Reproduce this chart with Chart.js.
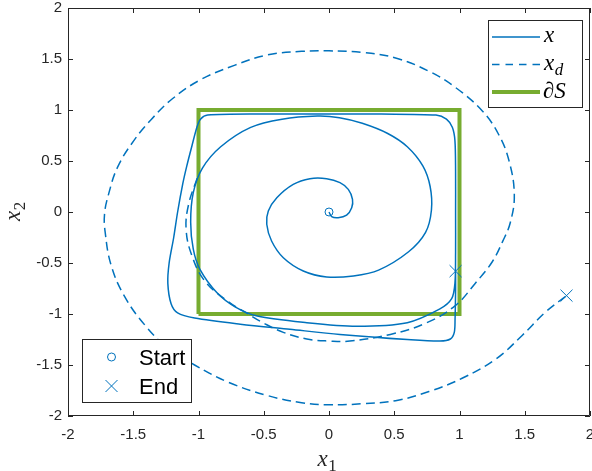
<!DOCTYPE html>
<html>
<head>
<meta charset="utf-8">
<script src="https://cdn.jsdelivr.net/npm/chart.js@4.4.1/dist/chart.umd.min.js"></script>
<style>
  html, body { margin: 0; padding: 0; background: #fff; overflow: hidden; }
  #wrap { width: 592px; height: 471px; position: relative; }
</style>
</head>
<body>
<div id="wrap"><canvas id="phaseChart"></canvas></div>
<script>
// state trajectory x = (x1, x2)
const trajX1 = [0, 0.02, 0.07, 0.135, 0.174, 0.18, 0.148, 0.084, -0.018, -0.146,
  -0.274, -0.4, -0.465, -0.477, -0.44, -0.35, -0.197, -0.018, 0.187, 0.38,
  0.61, 0.74, 0.785, 0.775, 0.72, 0.6, 0.45, 0.255, 0.08, -0.09,
  -0.36, -0.6, -0.83, -0.97, -1.04, -1.06, -1.04, -0.99, -0.86, -0.72,
  -0.55, -0.17, 0.21, 0.6, 0.85, 0.94, 0.965, 0.97, 0.97, 0.97,
  0.965, 0.945, 0.9, 0.82, 0.4, 0.0, -0.5, -0.93, -0.985, -1.01,
  -1.05, -1.09, -1.12, -1.16, -1.19, -1.225, -1.235, -1.21, -1.16, -1.03,
  -0.68, -0.3, 0.084, 0.6, 0.85, 0.93, 0.96, 0.966, 0.97, 0.97];
const trajX2 = [0, -0.045, -0.056, -0.03, 0.042, 0.124, 0.222, 0.288, 0.327, 0.327,
  0.271, 0.14, 0.01, -0.12, -0.284, -0.448, -0.578, -0.637, -0.627, -0.57,
  -0.39, -0.2, 0.02, 0.25, 0.45, 0.64, 0.77, 0.87, 0.925, 0.94,
  0.91, 0.83, 0.64, 0.43, 0.19, -0.1, -0.365, -0.56, -0.79, -0.93,
  -1.02, -1.085, -1.12, -1.085, -0.95, -0.85, -0.7, -0.4, 0.0, 0.4,
  0.7, 0.83, 0.91, 0.95, 0.96, 0.96, 0.96, 0.95, 0.91, 0.84,
  0.65, 0.45, 0.28, 0.0, -0.25, -0.5, -0.7, -0.9, -0.99, -1.04,
  -1.1, -1.15, -1.2, -1.25, -1.265, -1.245, -1.18, -1.05, -0.77, -0.58];

// desired trajectory x_d
const desX1 = [-1.01, -1.075, -1.095, -1.05, -0.95, -0.77, -0.62, -0.5, -0.35, -0.17,
  0.0, 0.16, 0.47, 0.75, 0.97, 1.12, 1.25, 1.33, 1.39, 1.42,
  1.38, 1.3, 1.175, 0.97, 0.766, 0.51, 0.255, 0.0, -0.21, -0.47,
  -0.72, -0.98, -1.2, -1.36, -1.49, -1.62, -1.69, -1.72, -1.715, -1.67,
  -1.57, -1.41, -1.23, -1.03, -0.77, -0.47, -0.21, 0.0, 0.255, 0.51,
  0.766, 1.02, 1.28, 1.48, 1.66, 1.82];
const desX2 = [0.33, 0.08, -0.17, -0.43, -0.68, -0.88, -1.0, -1.09, -1.18, -1.245,
  -1.265, -1.265, -1.2, -1.085, -0.915, -0.7, -0.49, -0.29, -0.1, 0.17,
  0.5, 0.76, 0.99, 1.22, 1.38, 1.51, 1.565, 1.58, 1.575, 1.54,
  1.44, 1.3, 1.11, 0.91, 0.71, 0.44, 0.17, -0.02, -0.2, -0.52,
  -0.82, -1.11, -1.34, -1.5, -1.67, -1.8, -1.87, -1.89, -1.88, -1.85,
  -1.76, -1.63, -1.44, -1.21, -0.98, -0.82];

// boundary of the safe set S
const boundX1 = [-1, 1, 1, -1, -1];
const boundX2 = [-1, -1, 1, 1, -1];

// start and end markers
const startX1 = [0];
const startX2 = [0];
const endX1 = [0.97, 1.82];
const endX2 = [-0.58, -0.82];

// ticks
const xTickValues = [-2, -1.5, -1, -0.5, 0, 0.5, 1, 1.5, 2];
const xTickLabels = ["-2", "-1.5", "-1", "-0.5", "0", "0.5", "1", "1.5", "2"];
const yTickValues = [-2, -1.5, -1, -0.5, 0, 0.5, 1, 1.5, 2];
const yTickLabels = ["-2", "-1.5", "-1", "-0.5", "0", "0.5", "1", "1.5", "2"];

const BLUE = "#0072BD";
const GREEN = "#77AC30";
const AXIS = "#262626";
const SERIF = '"Liberation Serif", "DejaVu Serif", serif';
const SANS = '"Liberation Sans", Arial, sans-serif';
const TICK_SIZE = 15;

const toPoints = (xs, ys) => xs.map((v, i) => ({ x: v, y: ys[i] }));

// italic symbol with an optional subscript, left/baseline anchored
function mathText(ctx, base, sub, x, y, size, subItalic) {
  ctx.font = "italic " + size + "px " + SERIF;
  ctx.textAlign = "left";
  ctx.textBaseline = "alphabetic";
  ctx.fillText(base, x, y);
  if (!sub) return;
  const w = ctx.measureText(base).width;
  ctx.font = (subItalic ? "italic " : "") + Math.round(size * 0.72) + "px " + SERIF;
  ctx.fillText(sub, x + w + 0.5, y + size * 0.22);
}

// frame with inward ticks, x tick labels, axis titles and the two legends
const matlabDecor = {
  id: "matlabDecor",
  afterDraw(chart) {
    const { ctx, chartArea: a, scales } = chart;
    ctx.save();
    ctx.strokeStyle = AXIS;
    ctx.lineWidth = 1;
    ctx.setLineDash([]);
    ctx.beginPath();
    ctx.rect(Math.round(a.left) + 0.5, Math.round(a.top) + 0.5,
      Math.round(a.width) - 1, Math.round(a.height) - 1);
    const tl = 5;
    scales.x.ticks.forEach((t) => {
      const px = Math.round(scales.x.getPixelForValue(t.value)) + 0.5;
      ctx.moveTo(px, a.bottom); ctx.lineTo(px, a.bottom - tl);
      ctx.moveTo(px, a.top); ctx.lineTo(px, a.top + tl);
    });
    scales.y.ticks.forEach((t) => {
      const py = Math.round(scales.y.getPixelForValue(t.value)) + 0.5;
      ctx.moveTo(a.left, py); ctx.lineTo(a.left + tl, py);
      ctx.moveTo(a.right, py); ctx.lineTo(a.right - tl, py);
    });
    ctx.stroke();

    // x tick labels
    ctx.fillStyle = AXIS;
    ctx.font = TICK_SIZE + "px " + SANS;
    ctx.textAlign = "center";
    ctx.textBaseline = "alphabetic";
    scales.x.ticks.forEach((t, i) => {
      ctx.fillText(xTickLabels[i], scales.x.getPixelForValue(t.value), a.bottom + 22.5);
    });

    // axis titles
    const cx = (a.left + a.right) / 2;
    mathText(ctx, "x", "1", cx - 11.5, 466, 23, false);
    ctx.save();
    ctx.translate(20, (a.top + a.bottom) / 2 + 9);
    ctx.rotate(-Math.PI / 2);
    mathText(ctx, "x", "2", 0, 0, 23, false);
    ctx.restore();

    // legend for x, x_d and the boundary
    ctx.fillStyle = "#fff";
    ctx.fillRect(488, 20, 94, 87);
    ctx.strokeStyle = AXIS;
    ctx.lineWidth = 1;
    ctx.strokeRect(488.5, 20.5, 94, 87);
    const rows = [37, 64.5, 92];
    ctx.strokeStyle = BLUE;
    ctx.lineWidth = 1.5;
    ctx.beginPath(); ctx.moveTo(492, rows[0]); ctx.lineTo(540, rows[0]); ctx.stroke();
    ctx.setLineDash([7.5, 6]);
    ctx.beginPath(); ctx.moveTo(492, rows[1]); ctx.lineTo(540, rows[1]); ctx.stroke();
    ctx.setLineDash([]);
    ctx.strokeStyle = GREEN;
    ctx.lineWidth = 4;
    ctx.beginPath(); ctx.moveTo(492, rows[2]); ctx.lineTo(540, rows[2]); ctx.stroke();
    ctx.fillStyle = "#000";
    mathText(ctx, "x", "", 544, rows[0] + 5, 23, false);
    mathText(ctx, "x", "d", 544, rows[1] + 5, 23, true);
    mathText(ctx, "\u2202S", "", 543, rows[2] + 6, 23, false);

    // legend for start and end markers
    ctx.fillStyle = "#fff";
    ctx.fillRect(82, 339, 109, 63);
    ctx.strokeStyle = AXIS;
    ctx.lineWidth = 1;
    ctx.strokeRect(82.5, 339.5, 109, 63);
    ctx.strokeStyle = BLUE;
    ctx.beginPath();
    ctx.arc(111.5, 357, 4, 0, Math.PI * 2);
    ctx.stroke();
    const h = 6;
    ctx.beginPath();
    ctx.moveTo(111.5 - h, 386 - h); ctx.lineTo(111.5 + h, 386 + h);
    ctx.moveTo(111.5 - h, 386 + h); ctx.lineTo(111.5 + h, 386 - h);
    ctx.stroke();
    ctx.fillStyle = "#000";
    ctx.font = "22px " + SANS;
    ctx.textAlign = "left";
    ctx.fillText("Start", 139, 365);
    ctx.fillText("End", 139, 394);
    ctx.restore();
  },
};

new Chart(document.getElementById("phaseChart"), {
  type: "scatter",
  data: {
    datasets: [
      {
        label: "Start",
        data: toPoints(startX1, startX2),
        showLine: false,
        pointStyle: "circle",
        pointRadius: 4,
        pointBorderWidth: 1,
        pointBorderColor: BLUE,
        pointBackgroundColor: "rgba(0,0,0,0)",
        order: 0,
      },
      {
        label: "End",
        data: toPoints(endX1, endX2),
        showLine: false,
        pointStyle: "crossRot",
        pointRadius: 8.5,
        pointBorderWidth: 1,
        pointBorderColor: BLUE,
        order: 0,
      },
      {
        label: "x",
        data: toPoints(trajX1, trajX2),
        showLine: true,
        borderColor: BLUE,
        borderWidth: 1.5,
        pointRadius: 0,
        tension: 0.3,
        order: 1,
      },
      {
        label: "x_d",
        data: toPoints(desX1, desX2),
        showLine: true,
        borderColor: BLUE,
        borderWidth: 1.5,
        borderDash: [9, 5],
        pointRadius: 0,
        tension: 0.4,
        order: 2,
      },
      {
        label: "boundary",
        data: toPoints(boundX1, boundX2),
        showLine: true,
        borderColor: GREEN,
        borderWidth: 4,
        borderJoinStyle: "miter",
        pointRadius: 0,
        tension: 0,
        order: 3,
      },
    ],
  },
  options: {
    responsive: true,
    maintainAspectRatio: false,
    animation: false,
    events: [],
    layout: { autoPadding: false, padding: { top: 8, right: 2, left: 0, bottom: 0 } },
    plugins: { legend: { display: false }, tooltip: { enabled: false } },
    scales: {
      x: {
        type: "linear",
        min: -2,
        max: 2,
        grid: { display: false, drawTicks: false },
        border: { display: false },
        afterBuildTicks: (s) => { s.ticks = xTickValues.map((v) => ({ value: v })); },
        afterFit: (s) => { s.height = 55; s.paddingLeft = 0; s.paddingRight = 0; },
        ticks: { display: false },
      },
      y: {
        type: "linear",
        min: -2,
        max: 2,
        grid: { display: false, drawTicks: false },
        border: { display: false },
        afterBuildTicks: (s) => { s.ticks = yTickValues.map((v) => ({ value: v })); },
        afterFit: (s) => { s.width = 68; s.paddingTop = 0; s.paddingBottom = 0; },
        ticks: {
          padding: 6,
          color: AXIS,
          font: { family: SANS, size: TICK_SIZE },
          autoSkip: false,
          callback: (v, i) => yTickLabels[i],
        },
      },
    },
  },
  plugins: [matlabDecor],
});
</script>
</body>
</html>
